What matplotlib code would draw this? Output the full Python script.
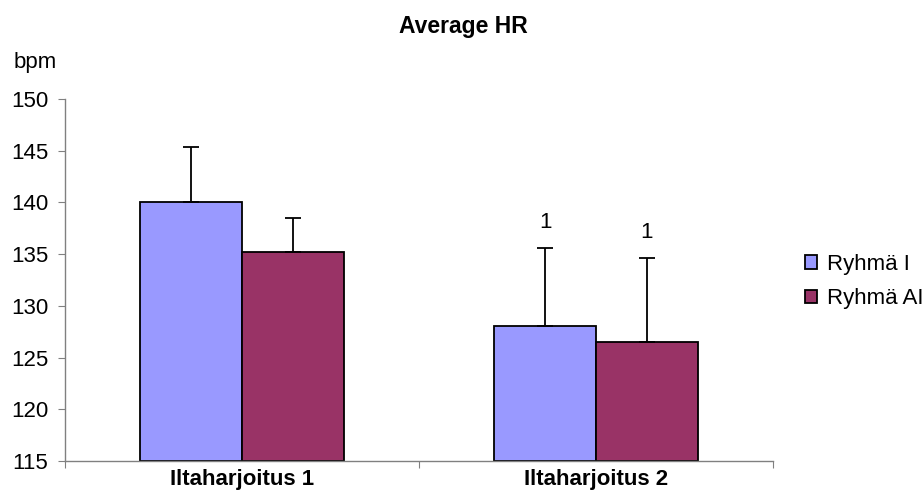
import numpy as np
import matplotlib
matplotlib.use("Agg")
import matplotlib.pyplot as plt

plt.rcParams['font.family'] = ['Liberation Sans', 'DejaVu Sans']

categories = ["Iltaharjoitus 1", "Iltaharjoitus 2"]
groups = ["Ryhmä I", "Ryhmä AI"]
means = {"Ryhmä I": [140.0, 128.1], "Ryhmä AI": [135.2, 126.5]}
errors = {"Ryhmä I": [5.4, 7.5], "Ryhmä AI": [3.3, 8.1]}
marks = {"Ryhmä I": ["", "1"], "Ryhmä AI": ["", "1"]}
colors = ["#9999FF", "#993366"]

fig = plt.figure(figsize=(9.24, 4.94), dpi=100)
ax = fig.add_axes([0.0703, 0.0668, 0.7663, 0.7328])

x = np.arange(len(categories))
w = 0.287
for i, g in enumerate(groups):
    pos = x + (i - 0.5) * w
    vals = np.array(means[g])
    err = np.array(errors[g])
    ax.bar(pos, vals - 115, w, bottom=115, color=colors[i], edgecolor='black',
           linewidth=1.3, label=g, zorder=2)
    ax.errorbar(pos, vals, yerr=[np.zeros_like(err), err], fmt='none',
                ecolor='black', elinewidth=1.3, capsize=5.8, capthick=1.3, zorder=3)
    for p, v, e, m in zip(pos, vals, err, marks[g]):
        if m:
            ax.annotate(m, (p, v + e), xytext=(0, 11), textcoords='offset points',
                        ha='center', va='bottom', fontsize=16)

ax.set_xlim(-0.5, 1.5)
ax.set_ylim(115, 150)
ax.set_yticks(np.arange(115, 151, 5))
ax.set_xticks([-0.5, 0.5, 1.5], minor=False)
ax.set_xticklabels([])
ax.set_xticks(x, minor=True)
ax.set_xticklabels(categories, minor=True, fontweight='bold', fontsize=16)
ax.tick_params(axis='x', which='minor', length=0, pad=6)
ax.tick_params(axis='x', which='major', length=5, direction='out', color='#808080')
ax.tick_params(axis='y', length=5, direction='out', color='#808080', labelsize=16, pad=7)

for s in ['top', 'right']:
    ax.spines[s].set_visible(False)
for s in ['left', 'bottom']:
    ax.spines[s].set_color('#808080')
    ax.spines[s].set_linewidth(1.0)

fig.text(0.501, 0.947, "Average HR", ha='center', va='center', fontsize=16.5, fontweight='bold')
fig.text(0.015, 0.874, "bpm", ha='left', va='center', fontsize=16)

ax.legend(loc='center left', bbox_to_anchor=(0.871, 0.43), bbox_transform=fig.transFigure,
          frameon=False, fontsize=16, handlelength=0.55, handleheight=0.55,
          handletextpad=0.45, labelspacing=0.6, borderaxespad=0, borderpad=0)

fig.savefig("out.png", dpi=100)
